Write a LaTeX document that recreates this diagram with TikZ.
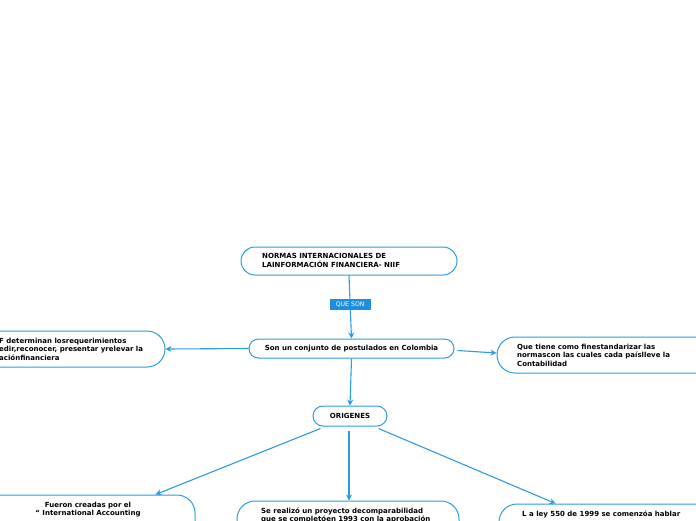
\documentclass[tikz,border=0pt]{standalone}
\usepackage{fontspec}
\setmainfont{DejaVu Sans}
\usetikzlibrary{arrows.meta,calc}
\definecolor{lineblue}{HTML}{2E9BE2}
\definecolor{tagblue}{HTML}{1E8FDD}
\begin{document}
\begin{tikzpicture}[x=1pt,y=-1pt,
  box/.style={draw=lineblue,line width=1pt,fill=white,rounded corners=#1,inner sep=0pt},
  box/.default=9pt,
  txt/.style={font=\fontsize{7}{8.6}\selectfont\bfseries,inner sep=0pt},
  conn/.style={draw=lineblue,line width=1.1pt,-{Stealth[length=6pt,width=6pt]}},
  tag/.style={fill=tagblue,text=white,font=\fontsize{6.2}{6.5}\selectfont,minimum width=41pt,minimum height=11pt,inner sep=0pt}
]
\useasboundingbox (0,0) rectangle (696,520);
% top node
\node[box=14pt,minimum width=216pt,minimum height=28pt] (N) at (349,261) {};
\node[txt,anchor=north west,align=left] (Nt) at (262,253.5) {NORMAS INTERNACIONALES DE\\LAINFORMACIÓN FINANCIERA- NIIF};
% central node
\node[box=9.5pt,minimum width=205pt,minimum height=19pt] (S) at (351.5,348.5) {};
\node[txt] (St) at (S) {Son un conjunto de postulados en Colombia};
% left node
\node[box=18pt,minimum width=225pt,minimum height=36pt] (L) at (52.5,349) {};
\node[txt,anchor=north west,align=left] (Lt) at (-1,337.5) {F determinan losrequerimientos\\edir,reconocer, presentar yrelevar la\\aciónfinanciera};
% right node
\node[box=18pt,minimum width=240pt,minimum height=36pt] (R) at (617,355) {};
\node[txt,anchor=north west,align=left] (Rt) at (517,343.5) {Que tiene como finestandarizar las\\normascon las cuales cada paíslleve la\\Contabilidad};
% origenes
\node[box=10pt,minimum width=74pt,minimum height=20pt] (O) at (350,416) {};
\node[txt] (Ot) at (O) {ORIGENES};
% bottom nodes
\node[box=18pt,minimum width=240pt,minimum height=70pt] (BL) at (75,530) {};
\node[txt,anchor=north,align=center] (BLt) at (88,501.5) {Fueron creadas por el\\“ International Accounting};
\node[box=18pt,minimum width=222pt,minimum height=64pt] (BM) at (348,533) {};
\node[txt,anchor=north west,align=left] (BMt) at (261,507.5) {Se realizó un proyecto decomparabilidad\\que se completóen 1993 con la aprobación};
\node[box=18pt,minimum width=241pt,minimum height=61pt] (BR) at (619.5,534.5) {};
\node[txt,anchor=north west,align=left] (BRt) at (522,510.5) {L a ley 550 de 1999 se comenzóa hablar};
% connectors
\draw[conn] (N.south) -- node[tag,pos=0.46] (Q) {QUE SON} (S.north);
\draw[conn] (S.west) -- (L.east);
\draw[conn] ([shift={(3,2)}]S.east) -- ([shift={(0,-2)}]R.west);
\draw[conn] (S.south) -- (O.north);
\draw[conn] ([shift={(8,2)}]O.south west) -- ([shift={(-40,0)}]BL.north east);
\draw[conn] ([shift={(-1,4)}]O.south) -- ([shift={(1,0)}]BM.north);
\draw[conn] ([shift={(-9,2)}]O.south east) -- ([shift={(57,0)}]BR.north west);
\end{tikzpicture}
\end{document}
